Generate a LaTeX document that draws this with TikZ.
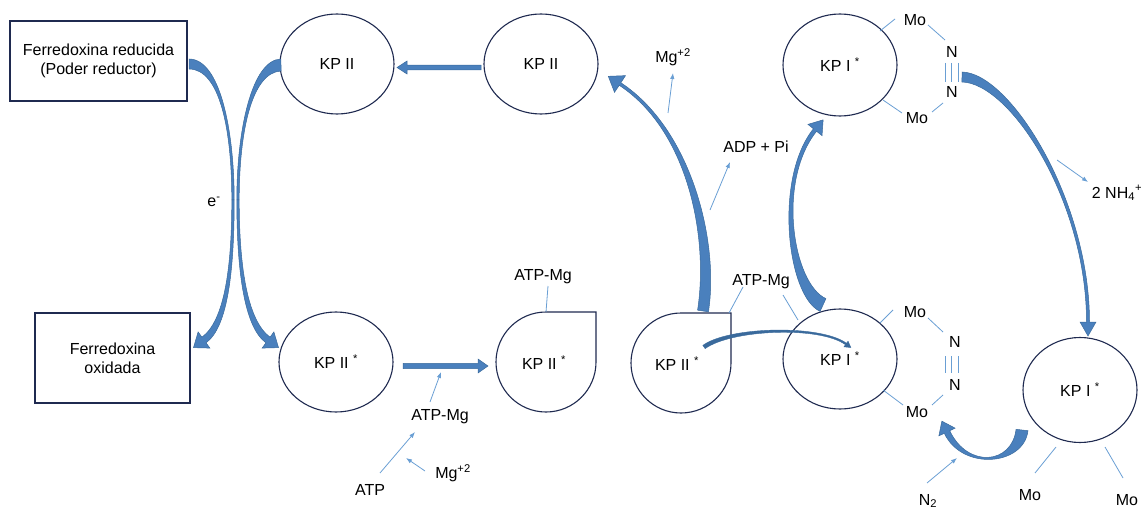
\documentclass[tikz,border=0pt]{standalone}
\usepackage{fontspec}
\setmainfont{Liberation Sans}
\usetikzlibrary{shapes.geometric,calc,arrows.meta}
\definecolor{navy}{HTML}{1F2A50}
\definecolor{arrowfill}{HTML}{4A80BD}
\definecolor{arrowedge}{HTML}{3A6A9C}
\definecolor{thinblue}{HTML}{6A9FD4}
% tapered curved arrow: S C1 C2 E halfwidth-start halfwidth-end head-halfwidth head-length
\newcommand{\taperarrow}[8]{%
  \coordinate (ta1) at ($(#1)!#5!90:(#2)$);
  \coordinate (ta2) at ($(#1)!#5!-90:(#2)$);
  \coordinate (tb1) at ($(#4)!#6!-90:(#3)$);
  \coordinate (tb2) at ($(#4)!#6!90:(#3)$);
  \coordinate (tc1) at ($(#2)+(ta1)-(#1)$);
  \coordinate (tc2) at ($(#2)+(ta2)-(#1)$);
  \coordinate (td1) at ($(#3)+(tb1)-(#4)$);
  \coordinate (td2) at ($(#3)+(tb2)-(#4)$);
  \coordinate (th1) at ($(#4)!#7!-90:(#3)$);
  \coordinate (th2) at ($(#4)!#7!90:(#3)$);
  \coordinate (tt) at ($(#4)!-#8!(#3)$);
  \filldraw[bigarrow] (ta1) .. controls (tc1) and (td1) .. (tb1) -- (th1) -- (tt) -- (th2) -- (tb2) .. controls (td2) and (tc2) .. (ta2) -- cycle;
}
% tapered band without head: S C1 C2 E halfwidth-start halfwidth-end
\newcommand{\taperband}[6]{%
  \coordinate (ta1) at ($(#1)!#5!90:(#2)$);
  \coordinate (ta2) at ($(#1)!#5!-90:(#2)$);
  \coordinate (tb1) at ($(#4)!#6!-90:(#3)$);
  \coordinate (tb2) at ($(#4)!#6!90:(#3)$);
  \coordinate (tc1) at ($(#2)+(ta1)-(#1)$);
  \coordinate (tc2) at ($(#2)+(ta2)-(#1)$);
  \coordinate (td1) at ($(#3)+(tb1)-(#4)$);
  \coordinate (td2) at ($(#3)+(tb2)-(#4)$);
  \filldraw[bigarrow] (ta1) .. controls (tc1) and (td1) .. (tb1) -- (tb2) .. controls (td2) and (tc2) .. (ta2) -- cycle;
}
\begin{document}
\begin{tikzpicture}[x=1pt,y=-1pt,
  every node/.style={font=\fontsize{16}{19}\selectfont, inner sep=0pt, align=center},
  kp/.style={draw=navy, line width=1.1pt, ellipse, minimum width=114pt, minimum height=100pt},
  box/.style={draw=navy, line width=1.1pt, rectangle},
  thinline/.style={draw=thinblue, line width=0.8pt},
  thinarrow/.style={thinline, -{Latex[length=6pt,width=4.5pt]}},
  bigarrow/.style={fill=arrowfill, draw=arrowedge, line width=0.5pt},
  darkarrow/.style={fill=arrowedge, draw=arrowedge, line width=0.4pt},
  dropshape/.style={draw=navy, line width=1.1pt}]
\useasboundingbox (0,0) rectangle (1145,513);

% boxes
\node[box, minimum width=177pt, minimum height=80pt] (fred) at (98.5,61) {Ferredoxina reducida\\(Poder reductor)};
\node[box, minimum width=155pt, minimum height=90pt] (fox) at (112.5,358) {Ferredoxina\\oxidada};

% ellipses
\node[kp] (kpa) at (337,64) {KP II};
\node[kp] (kpb) at (541,64) {KP II};
\node[kp, minimum height=102pt] (kpi1) at (840,65) {KP I \textsuperscript{*}};
\node[kp] (kpc) at (336,362) {KP II \textsuperscript{*}};
\node[kp] (kpi2) at (840,359) {KP I \textsuperscript{*}};
\node[kp, minimum height=105pt] (kpi3) at (1080,390) {KP I \textsuperscript{*}};

% drop shapes
\draw[dropshape] (546,312) -- (596,312) -- (596,362) arc[start angle=0,end angle=-270,radius=50pt] -- cycle;
\node (drop1) at (544,363) {KP II \textsuperscript{*}};
\draw[dropshape] (681,313) -- (731,313) -- (731,363) arc[start angle=0,end angle=-270,radius=50pt] -- cycle;
\node (drop2) at (677,364) {KP II \textsuperscript{*}};

% labels
\node (e) at (214,202) {e\textsuperscript{-}};
\node (mgtop) at (673,57) {Mg\textsuperscript{+2}};
\node (adp) at (756,147) {ADP + Pi};
\node (nh4) at (1117,193) {2 NH\textsubscript{4}\textsuperscript{+}};
\node (atpmgA) at (543,277) {ATP-Mg};
\node (atpmgB) at (761,282) {ATP-Mg};
\node (atpmgC) at (440,417) {ATP-Mg};
\node (atp) at (370,490) {ATP};
\node (mgbot) at (453,473) {Mg\textsuperscript{+2}};
\node (n2label) at (928,501) {N\textsubscript{2}};
\node (mo1) at (915,20) {Mo};
\node (n1) at (952,52) {N};
\node (n2) at (952,92) {N};
\node (mo2) at (917,118) {Mo};
\node (mo3) at (915,312) {Mo};
\node (n3) at (955,342) {N};
\node (n4) at (955,385) {N};
\node (mo4) at (917,412) {Mo};
\node (mo5) at (1030,495) {Mo};
\node (mo6) at (1127,500) {Mo};

% named free ends
\coordinate (q1a) at (880,31);  \coordinate (q1b) at (895,19);
\coordinate (q2a) at (928,25);  \coordinate (q2b) at (945,40);
\coordinate (q3a) at (943,103); \coordinate (q3b) at (932,112);
\coordinate (q4a) at (883,100); \coordinate (q4b) at (902,113);
\coordinate (r1a) at (880,323); \coordinate (r1b) at (893,310);
\coordinate (r2a) at (928,318); \coordinate (r2b) at (943,332);
\coordinate (r3a) at (943,395); \coordinate (r3b) at (932,405);
\coordinate (r4a) at (883,390); \coordinate (r4b) at (903,405);
\coordinate (s1a) at (1056,447); \coordinate (s1b) at (1035,473);
\coordinate (s2a) at (1105,447); \coordinate (s2b) at (1123,478);
\coordinate (u1a) at (548,286); \coordinate (u1b) at (546,312);
\coordinate (u2a) at (743,287); \coordinate (u2b) at (729,313);
\coordinate (u3a) at (783,295); \coordinate (u3b) at (798,320);

% bonds
\foreach \p in {q1,q2,q3,q4,r1,r2,r3,r4,s1,s2,u1,u2,u3}
  \draw[thinline] (\p a) -- (\p b);
\foreach \x in {945,951.5,958} {
  \draw[thinline] (\x,63) -- (\x,82);
  \draw[thinline] (\x,356) -- (\x,373);
}

% thin arrows
\coordinate (v1a) at (668,113); \coordinate (v1b) at (673,73);
\coordinate (v2a) at (710,210); \coordinate (v2b) at (730,162);
\coordinate (v3a) at (1057,160); \coordinate (v3b) at (1088,182);
\coordinate (v4a) at (430,402); \coordinate (v4b) at (441,372);
\coordinate (v5a) at (380,473); \coordinate (v5b) at (415,432);
\coordinate (v6a) at (425,471); \coordinate (v6b) at (406,458);
\coordinate (v7a) at (927,483); \coordinate (v7b) at (957,458);
\foreach \p in {v1,v2,v3,v4,v5,v6,v7}
  \draw[thinarrow] (\p a) -- (\p b);

% big arrows
% Ferredoxina reducida -> Ferredoxina oxidada
\coordinate (a0) at (189,64); \coordinate (am) at (233,200); \coordinate (a1) at (204,340);
\taperband{a0}{220,64}{233,130}{am}{5pt}{1.2pt}
\taperarrow{am}{233,270}{226,324}{a1}{1.2pt}{3.5pt}{10pt}{13pt}
% KP II -> KP II*
\coordinate (b0) at (281,65); \coordinate (bm) at (238,200); \coordinate (b1) at (268,340);
\taperband{b0}{252,66}{238,130}{bm}{6pt}{1.2pt}
\taperarrow{bm}{238,270}{246,324}{b1}{1.2pt}{3.5pt}{10pt}{13pt}
% drop (KP II*) -> KP II
\coordinate (c0) at (703,311); \coordinate (c1) at (620,84);
\taperarrow{c0}{714,240}{690,130}{c1}{5.5pt}{1.5pt}{10pt}{14pt}
% KP I* (middle) -> KP I* (top)
\coordinate (d0) at (823,305); \coordinate (d1) at (815,130);
\taperarrow{d0}{790,290}{775,180}{d1}{7pt}{2pt}{9pt}{13pt}
% N triple bond -> KP I* (bottom right)
\coordinate (f0) at (962,77); \coordinate (f1) at (1088,322);
\taperarrow{f0}{1010,78}{1088,200}{f1}{5pt}{1.5pt}{8pt}{14pt}
% KP I* (bottom right) -> Mo
\coordinate (g0) at (1022,430); \coordinate (g1) at (947,432);
\taperarrow{g0}{1018,465}{965,470}{g1}{6pt}{3pt}{9pt}{12pt}
% thin curved: drop -> KP I* middle
\coordinate (k0) at (704,347); \coordinate (k1) at (846,344);
\begin{scope}[bigarrow/.style=darkarrow]
\taperarrow{k0}{730,328}{820,325}{k1}{2pt}{0.9pt}{3.5pt}{6pt}
\end{scope}
% straight arrows
\coordinate (h10) at (481,67.5); \coordinate (h11) at (407,67.5);
\taperarrow{h10}{456,67.5}{432,67.5}{h11}{2.4pt}{2.4pt}{6.5pt}{10pt}
\coordinate (h20) at (403,366); \coordinate (h21) at (478,366);
\taperarrow{h20}{428,366}{453,366}{h21}{2.6pt}{2.6pt}{7pt}{10pt}
\end{tikzpicture}
\end{document}
